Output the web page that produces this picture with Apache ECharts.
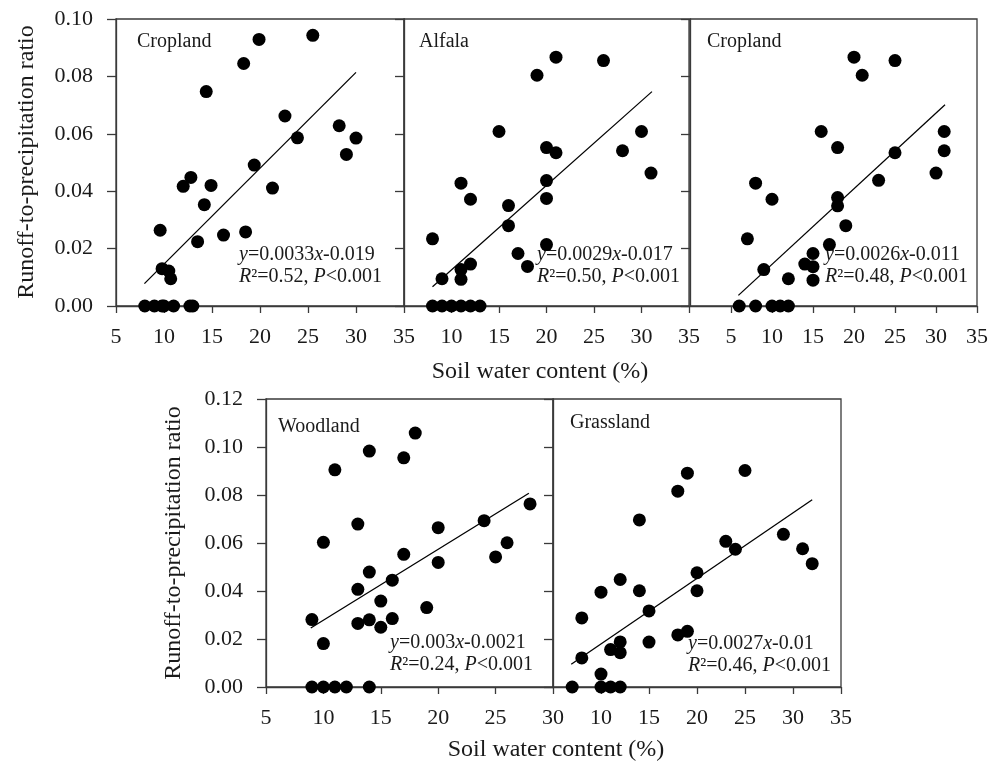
<!DOCTYPE html>
<html>
<head>
<meta charset="utf-8">
<script src="https://cdn.jsdelivr.net/npm/echarts@6/dist/echarts.min.js"></script>
<style>
  html, body { margin: 0; padding: 0; background: #fff; }
  #chart { width: 1000px; height: 762px; }
</style>
</head>
<body>
<div id="chart"></div>
<script>
// soil water content (%) and runoff-to-precipitation ratio
var crop1X = [8, 9, 9.8, 10, 11, 12.7, 13, 9.6, 9.8, 10.5, 10.7, 12, 12.8, 13.5, 14.2, 14.4, 14.9, 16.2, 18.3, 18.5, 19.4, 19.9, 21.3, 22.6, 23.9, 25.5, 28.25, 29, 30];
var crop1Y = [0, 0, 0, 0, 0, 0, 0, 0.0264, 0.013, 0.0122, 0.0095, 0.0417, 0.0448, 0.0224, 0.0353, 0.0747, 0.042, 0.0247, 0.0845, 0.0258, 0.0491, 0.0929, 0.0411, 0.0662, 0.0586, 0.0943, 0.0628, 0.0528, 0.0585];
var crop1Fit = [[7.96, 0.0078], [30, 0.0814]];

var alfX = [8, 9, 10, 11, 12, 13, 8, 9, 11, 11, 11, 12, 12, 15, 16, 16, 17, 18, 19, 20, 20, 20, 20, 21, 21, 26, 28, 30, 31];
var alfY = [0, 0, 0, 0, 0, 0, 0.0234, 0.0095, 0.0127, 0.0093, 0.0428, 0.0372, 0.0146, 0.0608, 0.035, 0.028, 0.0183, 0.0138, 0.0804, 0.0552, 0.0437, 0.0375, 0.0214, 0.0867, 0.0534, 0.0855, 0.0541, 0.0608, 0.0463];
var alfFit = [[8, 0.0067], [31.1, 0.0747]];

var crop2X = [6, 8, 10, 11, 12, 7, 8, 9, 10, 12, 14, 15, 15, 15, 16, 17, 18, 18, 18, 19, 20, 21, 23, 25, 25, 30, 31, 31];
var crop2Y = [0, 0, 0, 0, 0, 0.0234, 0.0428, 0.0127, 0.0372, 0.0095, 0.0146, 0.0183, 0.0137, 0.009, 0.0608, 0.0214, 0.0552, 0.0378, 0.0349, 0.028, 0.0867, 0.0804, 0.0438, 0.0855, 0.0534, 0.0463, 0.0608, 0.0541];
var crop2Fit = [[5.9, 0.0037], [31.1, 0.0701]];

var woodX = [9, 10, 11, 12, 14, 9, 10, 10, 11, 13, 13, 13, 14, 14, 14, 15, 15, 16, 16, 17, 17, 18, 19, 20, 20, 24, 25, 26, 28];
var woodY = [0, 0, 0, 0, 0, 0.0281, 0.0181, 0.0603, 0.0905, 0.0679, 0.0407, 0.0265, 0.0983, 0.0479, 0.028, 0.0358, 0.0249, 0.0445, 0.0285, 0.0955, 0.0553, 0.1058, 0.0331, 0.0664, 0.0519, 0.0693, 0.0542, 0.0601, 0.0763];
var woodFit = [[8.9, 0.0246], [27.9, 0.0807]];

var grassX = [7, 10, 11, 12, 8, 8, 10, 10, 11, 12, 12, 12, 14, 14, 15, 15, 18, 18, 19, 19, 20, 20, 23, 24, 25, 29, 31, 32];
var grassY = [0, 0, 0, 0, 0.0288, 0.0121, 0.0395, 0.0054, 0.0156, 0.0448, 0.0188, 0.0143, 0.0696, 0.0401, 0.0317, 0.0187, 0.0816, 0.0217, 0.0891, 0.0232, 0.0476, 0.0401, 0.0607, 0.0574, 0.0902, 0.0636, 0.0576, 0.0514];
var grassFit = [[6.9, 0.0095], [32, 0.078]];

var panelNames = ['Cropland', 'Alfala', 'Cropland', 'Woodland', 'Grassland'];
var equations = [
    ['0.0033', '-0.019', '0.52'],
    ['0.0029', '-0.017', '0.50'],
    ['0.0026', '-0.011', '0.48'],
    ['0.003', '-0.0021', '0.24'],
    ['0.0027', '-0.01', '0.46']
];
var xMins = [5, 5, 0, 5, 5];
var xMaxs = [35, 35, 35, 30, 35];
var yMaxs = [0.10, 0.10, 0.10, 0.12, 0.12];

var FONT = '"Liberation Serif", "Times New Roman", serif';
var INK = '#1a1a1a';
var AXIS = '#3a3a3a';

// panel frames: left, top, width, height
var frames = [
    [116, 19, 288, 287],
    [404, 19, 285, 287],
    [690, 19, 287, 287],
    [266, 399, 287, 288],
    [553, 399, 288, 288]
];
var eqPos = [[239, 244], [537, 244], [825, 244], [390, 632], [688, 633]];
var namePos = [[137, 42], [419, 42], [707, 42], [278, 427], [570, 423]];

var xs = [crop1X, alfX, crop2X, woodX, grassX];
var ys = [crop1Y, alfY, crop2Y, woodY, grassY];
var fits = [crop1Fit, alfFit, crop2Fit, woodFit, grassFit];

var chart = echarts.init(document.getElementById('chart'));

var grid = [], xAxis = [], yAxis = [], series = [], graphic = [];
for (var i = 0; i < 5; i++) {
    var f = frames[i];
    var showY = (i === 0 || i === 3);
    grid.push({
        left: f[0], top: f[1], width: f[2], height: f[3],
        show: true, borderColor: AXIS, borderWidth: 1.3,
        backgroundColor: 'transparent',
        outerBoundsMode: 'none', containLabel: false
    });
    xAxis.push({
        type: 'value', gridIndex: i, min: xMins[i], max: xMaxs[i], interval: 5,
        axisLine: { onZero: false, lineStyle: { color: AXIS, width: 1.3 } },
        axisTick: { length: 7, lineStyle: { color: AXIS, width: 1.3 } },
        splitLine: { show: false },
        axisLabel: {
            margin: 20, color: INK, fontFamily: FONT, fontSize: 22,
            showMinLabel: (i === 0 || i === 3)
        }
    });
    yAxis.push({
        type: 'value', gridIndex: i, min: 0, max: yMaxs[i], interval: 0.02,
        axisLine: { show: true, lineStyle: { color: AXIS, width: 1.3 } },
        axisTick: { show: true, length: 9, lineStyle: { color: AXIS, width: 1.3 } },
        splitLine: { show: false },
        axisLabel: {
            show: showY, margin: 23, color: INK, fontFamily: FONT, fontSize: 22,
            formatter: function (v) { return v.toFixed(2); }
        }
    });
    var pts = [];
    for (var k = 0; k < xs[i].length; k++) pts.push([xs[i][k], ys[i][k]]);
    series.push({
        type: 'scatter', xAxisIndex: i, yAxisIndex: i, data: pts,
        symbolSize: 13, itemStyle: { color: '#000', opacity: 1 },
        clip: false, z: 3
    });
    series.push({
        type: 'line', xAxisIndex: i, yAxisIndex: i, data: fits[i],
        showSymbol: false, lineStyle: { color: '#000', width: 1.3 },
        z: 2
    });

    graphic.push({
        type: 'text', x: namePos[i][0], y: namePos[i][1],
        style: {
            text: panelNames[i], fill: INK, fontFamily: FONT, fontSize: 20,
            align: 'left', verticalAlign: 'middle'
        }
    });
    var e = equations[i];
    var ital = { fontFamily: FONT, fontSize: 20, fontStyle: 'italic', fill: INK };
    var norm = { fontFamily: FONT, fontSize: 20, fill: INK };
    graphic.push({
        type: 'text', x: eqPos[i][0], y: eqPos[i][1],
        style: {
            text: '{i|y}{n|=' + e[0] + '}{i|x}{n|' + e[1] + '}\n{i|R}{n|\u00b2=' + e[2] + ', }{i|P}{n|<0.001}',
            fontFamily: FONT, fontSize: 20, fill: INK, lineHeight: 22,
            align: 'left', verticalAlign: 'top',
            rich: {
                i: Object.assign({ lineHeight: 22 }, ital),
                n: Object.assign({ lineHeight: 22 }, norm)
            }
        }
    });
}

// shared axis titles
var titleStyle = { fontFamily: FONT, fontSize: 24, fill: INK, align: 'center', verticalAlign: 'middle' };
graphic.push({ type: 'text', x: 27, y: 162, rotation: Math.PI / 2,
    style: Object.assign({ text: 'Runoff-to-precipitation ratio' }, titleStyle) });
graphic.push({ type: 'text', x: 174, y: 543, rotation: Math.PI / 2,
    style: Object.assign({ text: 'Runoff-to-precipitation ratio' }, titleStyle) });
graphic.push({ type: 'text', x: 540, y: 372,
    style: Object.assign({ text: 'Soil water content (%)' }, titleStyle) });
graphic.push({ type: 'text', x: 556, y: 750,
    style: Object.assign({ text: 'Soil water content (%)' }, titleStyle) });

chart.setOption({
    animation: false,
    backgroundColor: '#fff',
    grid: grid,
    xAxis: xAxis,
    yAxis: yAxis,
    series: series,
    graphic: graphic
});
</script>
</body>
</html>
